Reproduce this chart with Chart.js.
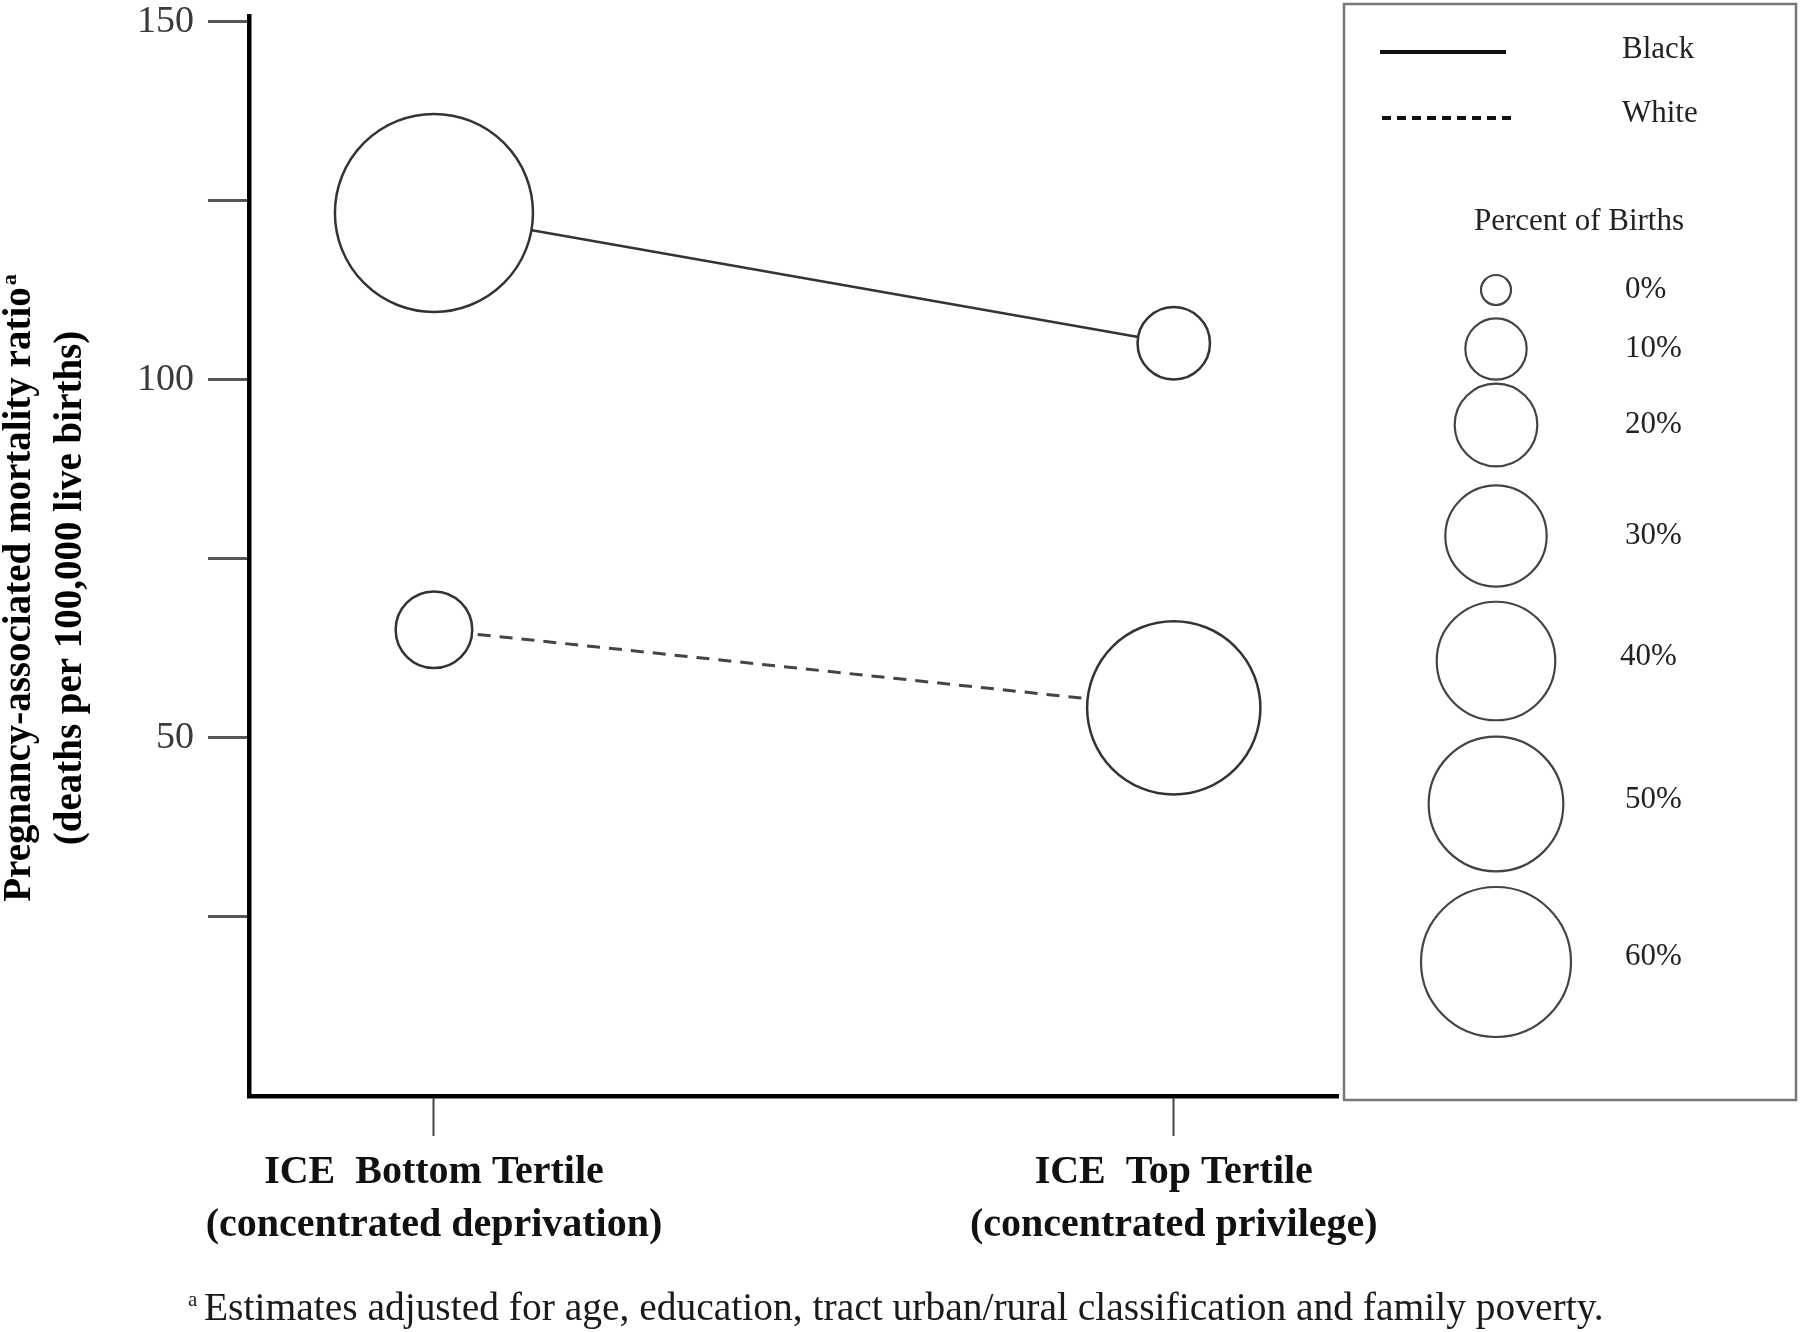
<!DOCTYPE html>
<html>
<head>
<meta charset="utf-8">
<script src="https://cdn.jsdelivr.net/npm/chart.js@4.4.0/dist/chart.umd.min.js"></script>
<style>
  html, body { margin: 0; padding: 0; background: #fff; }
</style>
</head>
<body>
<canvas id="chart" width="1800" height="1332"></canvas>
<script>
// Datos
const tertileLabels = [
    ['ICE  Bottom Tertile', '(concentrated deprivation)'],
    ['ICE  Top Tertile', '(concentrated privilege)']
];
const tertilePos = [0, 1];
const blackRatio = [123.3, 105.1];
const whiteRatio = [65.1, 54.2];
// porcentaje de nacimientos (leído contra la escala de la leyenda)
const blackBirths = [94, 15];
const whiteBirths = [17, 76];
const yTicks = [25, 50, 75, 100, 125, 150];
const yLabelled = [50, 100, 150];
const legendPcts = [0, 10, 20, 30, 40, 50, 60];

const serif = '"Liberation Serif", "Times New Roman", serif';

// radio de la burbuja a partir del porcentaje
const bubbleR = p => 15 + 60 * Math.pow(p / 60, 0.75);

const toLine = ys => tertilePos.map((x, i) => ({ x, y: ys[i] }));
const toBubbles = (ys, pcts) => tertilePos.map((x, i) => ({ x, y: ys[i], r: bubbleR(pcts[i]) }));

// Textos, leyenda y nota al pie
const extras = {
    id: 'extras',
    afterDraw(chart) {
        const ctx = chart.ctx;
        ctx.save();

        // título eje Y
        const main = 'Pregnancy-associated mortality ratio';
        ctx.font = `bold 39px ${serif}`;
        const wMain = ctx.measureText(main).width;
        ctx.font = `bold 22px ${serif}`;
        const wSup = ctx.measureText('a').width;
        const total = wMain + wSup + 2;
        ctx.translate(20, 588);
        ctx.rotate(-Math.PI / 2);
        ctx.fillStyle = '#000';
        ctx.textBaseline = 'middle';
        ctx.textAlign = 'left';
        ctx.font = `bold 39px ${serif}`;
        ctx.fillText(main, -total / 2, 0);
        ctx.font = `bold 22px ${serif}`;
        ctx.fillText('a', -total / 2 + wMain + 2, -10);
        ctx.textAlign = 'center';
        ctx.font = `bold 39px ${serif}`;
        ctx.fillText('(deaths per 100,000 live births)', 0, 51);
        ctx.setTransform(1, 0, 0, 1, 0, 0);

        // nota al pie
        const note = 'Estimates adjusted for age, education, tract urban/rural classification and family poverty.';
        ctx.fillStyle = '#1a1a1a';
        ctx.textAlign = 'left';
        ctx.textBaseline = 'middle';
        ctx.font = `35px ${serif}`;
        const size = 35 * 1400 / ctx.measureText(note).width;
        ctx.font = `${size}px ${serif}`;
        ctx.fillText(note, 204, 1310);
        ctx.font = `21px ${serif}`;
        ctx.fillText('a', 188, 1300);

        // leyenda
        ctx.strokeStyle = '#777';
        ctx.lineWidth = 2.5;
        ctx.strokeRect(1344, 4, 452, 1096);

        ctx.strokeStyle = '#111';
        ctx.lineWidth = 4;
        ctx.beginPath();
        ctx.moveTo(1380, 52);
        ctx.lineTo(1506, 52);
        ctx.stroke();
        ctx.setLineDash([9, 6]);
        ctx.beginPath();
        ctx.moveTo(1382, 118);
        ctx.lineTo(1512, 118);
        ctx.stroke();
        ctx.setLineDash([]);

        ctx.fillStyle = '#222';
        ctx.font = `31px ${serif}`;
        ctx.fillText('Black', 1622, 50);
        ctx.fillText('White', 1622, 114);
        ctx.textAlign = 'center';
        ctx.fillText('Percent of Births', 1579, 222);

        const circleY = [290, 349, 425, 536, 661, 804, 962];
        const labelY = [290, 349, 425, 536, 657, 800, 957];
        ctx.textAlign = 'left';
        ctx.strokeStyle = '#444';
        ctx.lineWidth = 2.2;
        legendPcts.forEach((p, i) => {
            ctx.beginPath();
            ctx.arc(1496, circleY[i], bubbleR(p), 0, Math.PI * 2);
            ctx.stroke();
            ctx.fillText(p + '%', i === 4 ? 1620 : 1625, labelY[i]);
        });

        ctx.restore();
    }
};

new Chart(document.getElementById('chart'), {
    type: 'bubble',
    data: {
        datasets: [
            {
                type: 'line',
                label: 'Black',
                data: toLine(blackRatio),
                borderColor: '#333',
                borderWidth: 2.5,
                pointRadius: 0,
                order: 2
            },
            {
                type: 'line',
                label: 'White',
                data: toLine(whiteRatio),
                borderColor: '#444',
                borderWidth: 3,
                borderDash: [13, 9],
                pointRadius: 0,
                order: 2
            },
            {
                label: 'Black births',
                data: toBubbles(blackRatio, blackBirths),
                backgroundColor: '#fff',
                borderColor: '#333',
                borderWidth: 2.5,
                order: 1
            },
            {
                label: 'White births',
                data: toBubbles(whiteRatio, whiteBirths),
                backgroundColor: '#fff',
                borderColor: '#333',
                borderWidth: 2.5,
                order: 1
            }
        ]
    },
    options: {
        responsive: false,
        animation: false,
        events: [],
        layout: { autoPadding: false, padding: { left: 0, top: 16, right: 462, bottom: 0 } },
        plugins: {
            legend: { display: false },
            tooltip: { enabled: false }
        },
        scales: {
            x: {
                type: 'linear',
                min: -0.25,
                max: 1.222,
                afterBuildTicks: s => { s.ticks = tertilePos.map(v => ({ value: v })); },
                afterFit: s => { s.height = 236; s.paddingLeft = 0; s.paddingRight = 0; },
                grid: { display: true, drawOnChartArea: false, drawTicks: true, tickLength: 40, tickWidth: 2, tickColor: '#444' },
                border: { display: true, color: '#000', width: 4.5 },
                ticks: {
                    callback: v => tertileLabels[tertilePos.indexOf(v)],
                    font: { family: serif, size: 40, weight: 'bold', lineHeight: 1.325 },
                    color: '#111',
                    padding: 10,
                    maxRotation: 0,
                    autoSkip: false
                }
            },
            y: {
                min: 0,
                max: 150.8,
                afterBuildTicks: s => { s.ticks = yTicks.map(v => ({ value: v })); },
                afterFit: s => { s.width = 249; s.paddingTop = 0; s.paddingBottom = 0; },
                grid: { display: true, drawOnChartArea: false, drawTicks: true, tickLength: 41, tickWidth: 3, tickColor: '#555' },
                border: { display: true, color: '#000', width: 4.5 },
                ticks: {
                    callback: v => yLabelled.includes(v) ? String(v) : '',
                    font: { family: serif, size: 38 },
                    color: '#3a3a3a',
                    padding: 14
                }
            }
        }
    },
    plugins: [extras]
});
</script>
</body>
</html>
